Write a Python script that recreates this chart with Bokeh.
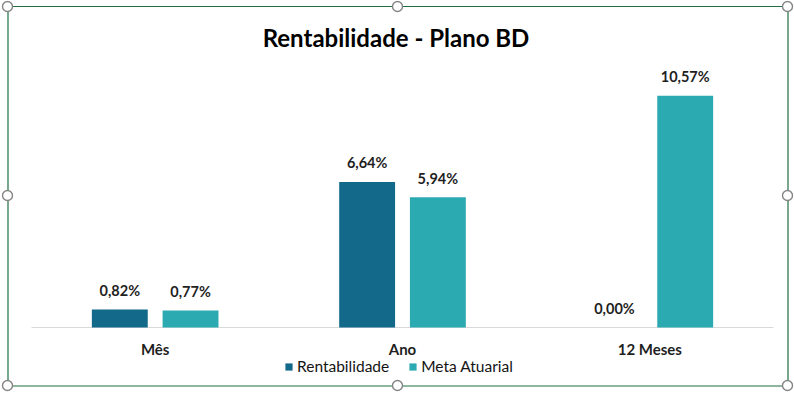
from bokeh.plotting import figure
from bokeh.models import ColumnDataSource, Legend, LegendItem, Range1d
from bokeh.transform import dodge
from bokeh.core.properties import value
from bokeh.embed import file_html
from bokeh.resources import INLINE

categories = ["Mês", "Ano", "12 Meses"]
rentabilidade = [0.82, 6.64, 0.00]
meta_atuarial = [0.77, 5.94, 10.57]
series_names = ["Rentabilidade", "Meta Atuarial"]
title_text = "Rentabilidade - Plano BD"

def fmt(v):
    return ("%.2f%%" % v).replace(".", ",")

W, H = 794, 394
# plot area (pixels) of the original chart
PL, PR, PB = 31.0, 773.0, 327.0
PX_PER_UNIT = 21.92
cat_w = (PR - PL) / len(categories)
x0 = -0.5 - PL / cat_w
x1 = len(categories) - 0.5 + (W - PR) / cat_w
y1 = PB / PX_PER_UNIT
y0 = -(H - PB) / PX_PER_UNIT

def px_x(px):
    return x0 + px / W * (x1 - x0)

def px_y(py):
    return y1 - py / H * (y1 - y0)

idx = list(range(len(categories)))
src = ColumnDataSource(dict(
    idx=idx, cat=categories,
    r=rentabilidade, m=meta_atuarial,
    rl=[fmt(v) for v in rentabilidade],
    ml=[fmt(v) for v in meta_atuarial],
    zero=[0] * len(categories),
))

FONT = "Lato"
DARK = "#13698A"
LIGHT = "#2CAAB2"
TXT = "#1F1F1F"

p = figure(x_range=Range1d(x0, x1), y_range=Range1d(y0, y1),
           width=W, height=H, output_backend="svg", toolbar_location=None,
           x_axis_type=None, y_axis_type=None, min_border=0)
p.outline_line_color = None
p.background_fill_color = "white"
p.border_fill_color = "white"
p.grid.visible = False

# chart-area border (Excel selection frame)
p.quad(left=px_x(7.5), right=px_x(787.5), top=px_y(6), bottom=px_y(385.5),
       fill_alpha=0, line_color="#1E6E40", line_width=1.2)

# category axis line
p.segment(x0=[-0.5], x1=[len(categories) - 0.5], y0=[0], y1=[0],
          line_color="#D9D9D9", line_width=1)

off = 0.143
w = 0.226
r1 = p.vbar(x=dodge("idx", -off), top="r", width=w, source=src,
            fill_color=DARK, line_color=None)
r2 = p.vbar(x=dodge("idx", off), top="m", width=w, source=src,
            fill_color=LIGHT, line_color=None)

for col, lab, o in (("r", "rl", -off), ("m", "ml", off)):
    p.text(x=dodge("idx", o), y=col, text=lab, source=src,
           text_align="center", text_baseline="alphabetic", y_offset=-19,
           text_font=value(FONT), text_font_size="14.5px", text_font_style="bold",
           text_color=TXT)

# category labels
p.text(x="idx", y="zero", text="cat", source=src,
       text_align="center", text_baseline="alphabetic", y_offset=21,
       text_font=value(FONT), text_font_size="15px", text_font_style="bold",
       text_color=TXT)

# title
p.text(x=[px_x(395.5)], y=[px_y(37)], text=[title_text],
       text_align="center", text_baseline="alphabetic",
       text_font=value(FONT), text_font_size="24px", text_font_style="bold",
       text_color="#000000")

# selection handles
hx = [7, 397, 787, 7, 787, 7, 397, 787]
hy = [6, 6, 6, 195, 195, 385, 385, 385]
p.scatter(x=[px_x(v) for v in hx], y=[px_y(v) for v in hy], marker="circle",
          size=10, fill_color="white", line_color="#858585", line_width=1.4)

legend = Legend(items=[LegendItem(label=series_names[0], renderers=[r1]),
                       LegendItem(label=series_names[1], renderers=[r2])],
                orientation="horizontal", location=(284, 19),
                label_text_font=FONT, label_text_font_size="15.5px",
                label_text_color="#141414", glyph_width=9, glyph_height=9,
                label_standoff=4, spacing=19, padding=0, margin=0,
                border_line_color=None, background_fill_alpha=0)
p.add_layout(legend)

open("out.html", "w").write(file_html(p, INLINE))
